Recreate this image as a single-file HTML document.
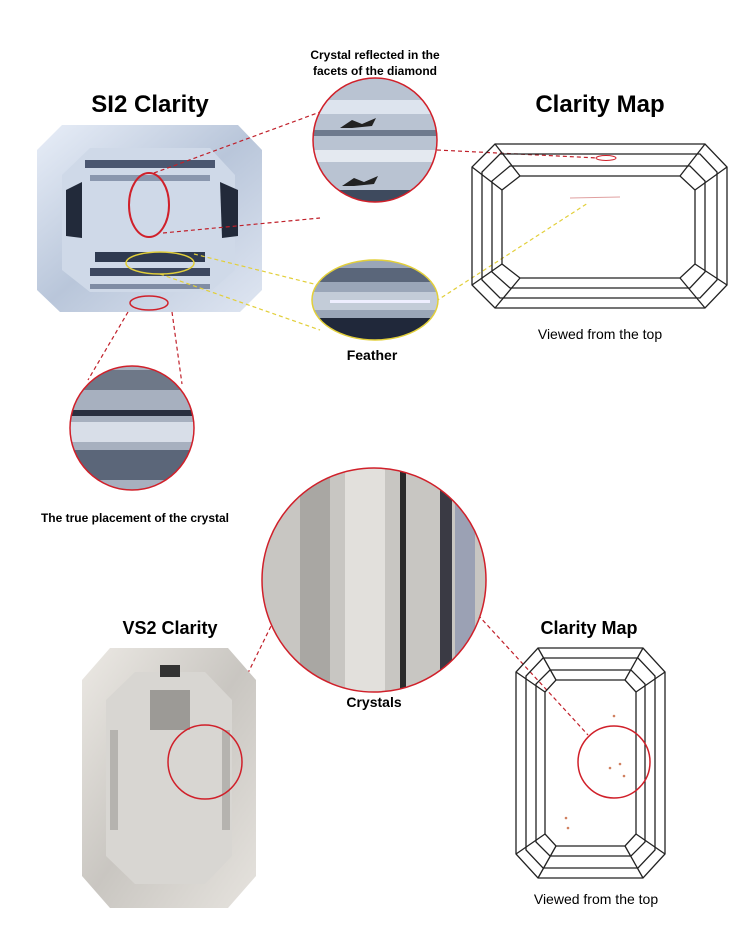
<!DOCTYPE html>
<html><head><meta charset="utf-8"><style>
body{margin:0;background:#fff;width:749px;height:936px;overflow:hidden}
text{font-family:"Liberation Sans",sans-serif}
</style></head><body>
<svg width="749" height="936" viewBox="0 0 749 936" xmlns="http://www.w3.org/2000/svg">
<defs>
<linearGradient id="dg" x1="0" y1="0" x2="1" y2="1"><stop offset="0" stop-color="#e8eef8"/><stop offset=".5" stop-color="#b9c6da"/><stop offset="1" stop-color="#dfe6f2"/></linearGradient>
<linearGradient id="wg" x1="0" y1="0" x2="1" y2="1"><stop offset="0" stop-color="#ece9e4"/><stop offset=".5" stop-color="#c9c6c1"/><stop offset="1" stop-color="#e6e3de"/></linearGradient>
<clipPath id="c1"><circle cx="375" cy="140" r="62"/></clipPath>
<clipPath id="c2"><ellipse cx="375" cy="300" rx="63" ry="40"/></clipPath>
<clipPath id="c3"><circle cx="132" cy="428" r="62"/></clipPath>
<clipPath id="c4"><circle cx="374" cy="580" r="112"/></clipPath>
</defs>
<!-- texts -->
<text x="375" y="59" font-size="12" font-weight="bold" text-anchor="middle">Crystal reflected in the</text>
<text x="375" y="75" font-size="12" font-weight="bold" text-anchor="middle">facets of the diamond</text>
<text x="150" y="112" font-size="24" font-weight="bold" text-anchor="middle">SI2 Clarity</text>
<text x="600" y="112" font-size="24" font-weight="bold" text-anchor="middle">Clarity Map</text>
<text x="372" y="360" font-size="14" font-weight="bold" text-anchor="middle">Feather</text>
<text x="600" y="339" font-size="14" text-anchor="middle">Viewed from the top</text>
<text x="135" y="522" font-size="12" font-weight="bold" text-anchor="middle">The true placement of the crystal</text>
<text x="170" y="634" font-size="18" font-weight="bold" text-anchor="middle">VS2 Clarity</text>
<text x="589" y="634" font-size="18" font-weight="bold" text-anchor="middle">Clarity Map</text>
<text x="374" y="707" font-size="14" font-weight="bold" text-anchor="middle">Crystals</text>
<text x="596" y="904" font-size="14" text-anchor="middle">Viewed from the top</text>

<!-- top diamond -->
<polygon points="62,125 238,125 262,150 262,290 240,312 60,312 37,290 37,150" fill="url(#dg)"/>
<polygon points="90,148 210,148 235,175 235,270 210,292 90,292 62,270 62,175" fill="#cfd9e8"/>
<rect x="85" y="160" width="130" height="8" fill="#4a5670"/>
<rect x="90" y="175" width="120" height="6" fill="#8a97ae"/>
<rect x="95" y="252" width="110" height="10" fill="#2f3a50"/>
<rect x="90" y="268" width="120" height="8" fill="#3d4860"/>
<rect x="90" y="284" width="120" height="5" fill="#7f8ca4"/>
<polygon points="66,190 82,182 82,238 66,236" fill="#222a3a"/>
<polygon points="220,182 238,190 238,236 222,238" fill="#222a3a"/>
<ellipse cx="149" cy="205" rx="20" ry="32" fill="none" stroke="#d0202a" stroke-width="2"/>
<ellipse cx="160" cy="263" rx="34" ry="11" fill="none" stroke="#e2cf3a" stroke-width="1.5"/>
<ellipse cx="149" cy="303" rx="19" ry="7" fill="none" stroke="#d0202a" stroke-width="1.5"/>

<!-- connectors -->
<g stroke="#c0202a" stroke-width="1.2" stroke-dasharray="4,3" fill="none">
<line x1="154" y1="173" x2="320" y2="112"/>
<line x1="163" y1="233" x2="320" y2="218"/>
<line x1="437" y1="150" x2="598" y2="158"/>
<line x1="128" y1="312" x2="88" y2="380"/>
<line x1="172" y1="312" x2="182" y2="384"/>
<line x1="274" y1="620" x2="220" y2="730"/>
<line x1="478" y1="615" x2="588" y2="735"/>
</g>
<g stroke="#e2cf3a" stroke-width="1.2" stroke-dasharray="4,3" fill="none">
<line x1="194" y1="254" x2="318" y2="285"/>
<line x1="160" y1="274" x2="320" y2="330"/>
<line x1="430" y1="305" x2="588" y2="203"/>
</g>

<!-- circle 1 -->
<g clip-path="url(#c1)">
<rect x="300" y="70" width="150" height="140" fill="#b9c3d2"/>
<rect x="300" y="100" width="150" height="14" fill="#dde4ee"/>
<rect x="300" y="130" width="150" height="6" fill="#6e7a8e"/>
<rect x="300" y="150" width="150" height="12" fill="#e4e9f0"/>
<rect x="300" y="190" width="150" height="12" fill="#3e4a5e"/>
<path d="M340 128 l12 -8 l10 4 l14 -6 l-4 8 l-20 2z" fill="#222"/>
<path d="M342 186 l12 -8 l10 4 l14 -6 l-4 8 l-20 2z" fill="#222"/>
</g>
<circle cx="375" cy="140" r="62" fill="none" stroke="#d0202a" stroke-width="1.5"/>
<!-- circle 2 -->
<g clip-path="url(#c2)">
<rect x="300" y="255" width="150" height="90" fill="#9aa6b8"/>
<rect x="300" y="268" width="150" height="14" fill="#5a667a"/>
<rect x="300" y="292" width="150" height="18" fill="#c3ccd8"/>
<rect x="330" y="300" width="100" height="3" fill="#eef"/>
<rect x="300" y="318" width="150" height="24" fill="#20283a"/>
</g>
<ellipse cx="375" cy="300" rx="63" ry="40" fill="none" stroke="#e2cf3a" stroke-width="1.5"/>
<!-- circle 3 -->
<g clip-path="url(#c3)">
<rect x="60" y="360" width="150" height="140" fill="#a7b0bf"/>
<rect x="60" y="370" width="150" height="20" fill="#6e7888"/>
<rect x="60" y="410" width="150" height="6" fill="#2a3040"/>
<rect x="60" y="422" width="150" height="20" fill="#d8dee8"/>
<rect x="60" y="450" width="150" height="30" fill="#5b6679"/>
</g>
<circle cx="132" cy="428" r="62" fill="none" stroke="#d0202a" stroke-width="1.5"/>
<!-- big circle -->
<g clip-path="url(#c4)">
<rect x="260" y="465" width="230" height="230" fill="#c8c6c2"/>
<rect x="300" y="465" width="30" height="230" fill="#a9a7a3"/>
<rect x="345" y="465" width="40" height="230" fill="#e2e0dc"/>
<rect x="400" y="465" width="6" height="230" fill="#2a2a2a"/>
<rect x="440" y="465" width="12" height="230" fill="#3a3a44"/>
<rect x="455" y="465" width="20" height="230" fill="#9ba1b4"/>
</g>
<circle cx="374" cy="580" r="112" fill="none" stroke="#d0202a" stroke-width="1.5"/>

<!-- VS2 diamond -->
<polygon points="110,648 228,648 256,680 256,876 228,908 110,908 82,876 82,680" fill="url(#wg)"/>
<polygon points="135,672 205,672 232,700 232,856 205,884 135,884 106,856 106,700" fill="#d8d6d2"/>
<rect x="150" y="690" width="40" height="40" fill="#9c9a96"/>
<rect x="160" y="665" width="20" height="12" fill="#333"/>
<rect x="110" y="730" width="8" height="100" fill="#b5b3af"/>
<rect x="222" y="730" width="8" height="100" fill="#b5b3af"/>
<circle cx="205" cy="762" r="37" fill="none" stroke="#d0202a" stroke-width="1.5"/>

<!-- top map -->
<g fill="none" stroke="#222" stroke-width="1.3">
<polygon points="495,144 705,144 727,167 727,285 705,308 495,308 472,285 472,167"/>
<polygon points="500,154 700,154 717,172 717,280 700,298 500,298 482,280 482,172"/>
<polygon points="510,166 690,166 705,181 705,272 690,288 510,288 492,272 492,181"/>
<polygon points="520,176 680,176 695,190 695,264 680,278 520,278 502,264 502,190"/>
<line x1="495" y1="144" x2="520" y2="176"/><line x1="472" y1="167" x2="502" y2="190"/>
<line x1="705" y1="144" x2="680" y2="176"/><line x1="727" y1="167" x2="695" y2="190"/>
<line x1="495" y1="308" x2="520" y2="278"/><line x1="472" y1="285" x2="502" y2="264"/>
<line x1="705" y1="308" x2="680" y2="278"/><line x1="727" y1="285" x2="695" y2="264"/>
</g>
<ellipse cx="606" cy="158" rx="10" ry="2.5" fill="none" stroke="#d0202a" stroke-width="1"/>
<line x1="570" y1="198" x2="620" y2="197" stroke="#e0a0a0"/>

<!-- bottom map -->
<g fill="none" stroke="#222" stroke-width="1.3">
<polygon points="538,648 643,648 665,672 665,854 643,878 538,878 516,854 516,672"/>
<polygon points="543,658 638,658 655,676 655,850 638,868 543,868 526,850 526,676"/>
<polygon points="550,670 631,670 645,684 645,842 631,856 550,856 536,842 536,684"/>
<polygon points="556,680 625,680 636,692 636,834 625,846 556,846 545,834 545,692"/>
<line x1="538" y1="648" x2="556" y2="680"/><line x1="516" y1="672" x2="545" y2="692"/>
<line x1="643" y1="648" x2="625" y2="680"/><line x1="665" y1="672" x2="636" y2="692"/>
<line x1="538" y1="878" x2="556" y2="846"/><line x1="516" y1="854" x2="545" y2="834"/>
<line x1="643" y1="878" x2="625" y2="846"/><line x1="665" y1="854" x2="636" y2="834"/>
</g>
<circle cx="614" cy="762" r="36" fill="none" stroke="#d0202a" stroke-width="1.5"/>
<g fill="#d08060"><circle cx="614" cy="716" r="1.3"/><circle cx="620" cy="764" r="1.3"/><circle cx="610" cy="768" r="1.3"/><circle cx="624" cy="776" r="1.3"/><circle cx="566" cy="818" r="1.3"/><circle cx="568" cy="828" r="1.3"/></g>
</svg>
</body></html>
